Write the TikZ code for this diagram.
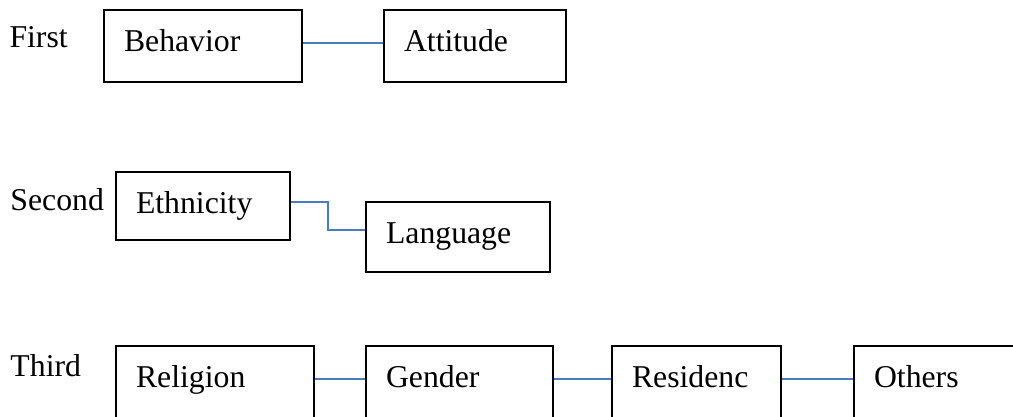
\documentclass[tikz,border=0pt]{standalone}
\usepackage{fontspec}
\setmainfont{Liberation Serif}
\usetikzlibrary{calc}
\definecolor{linkblue}{RGB}{74,126,187}
\begin{document}
\begin{tikzpicture}[x=0.4pt,y=-0.4pt]
	\tikzset{
	  factor/.style 2 args={draw=black,line width=0.8pt,anchor=north west,
		inner xsep=8pt,inner ysep=0pt,text width=#1,text height=16.4pt,
		text depth=#2,align=left,font=\fontsize{12.7}{15}\selectfont},
	  level/.style={anchor=base west,inner sep=0pt,font=\fontsize{12.7}{15}\selectfont},
	  link/.style={linkblue,line width=0.6pt},
	}

        \useasboundingbox (0,0) rectangle (1013,416);
        \clip (0,0) rectangle (1013,416);

        %FIRST ROW
        \node[level] (first) at (9,47) {First};
        \node[factor={63.2pt}{12.4pt}] (beh) at (103,9) {Behavior};
        \node[factor={56.8pt}{12.4pt}] (att) at (383,9) {Attitude};
        \draw[link] ([yshift=-13.6pt]beh.north east) -- ([yshift=-13.6pt]att.north west);

        %SECOND ROW
        \node[level] (second) at (10,210) {Second};
        \node[factor={53.6pt}{10.8pt}] (eth) at (115,171) {Ethnicity};
        \node[factor={57.6pt}{11.6pt}] (lang) at (365,201) {Language};
        \draw[link] ([yshift=-12.4pt]eth.north east) -| ($(eth.east)!0.5!(lang.west)$)
              |- ([yshift=-11.6pt]lang.north west);

        %THIRD ROW
        \node[level] (third) at (10,376) {Third};
        \node[factor={63.2pt}{19.6pt}] (rel) at (115,345) {Religion};
        \node[factor={58.8pt}{19.6pt}] (gen) at (365,345) {Gender};
        \node[factor={51.6pt}{19.6pt}] (res) at (611,345) {Residenc};
        \node[factor={64pt}{19.6pt}] (oth) at (853,345) {Others};
        \draw[link] ([yshift=-13.6pt]rel.north east) -- ([yshift=-13.6pt]gen.north west);
        \draw[link] ([yshift=-13.6pt]gen.north east) -- ([yshift=-13.6pt]res.north west);
        \draw[link] ([yshift=-13.6pt]res.north east) -- ([yshift=-13.6pt]oth.north west);
    \end{tikzpicture}
\end{document}
